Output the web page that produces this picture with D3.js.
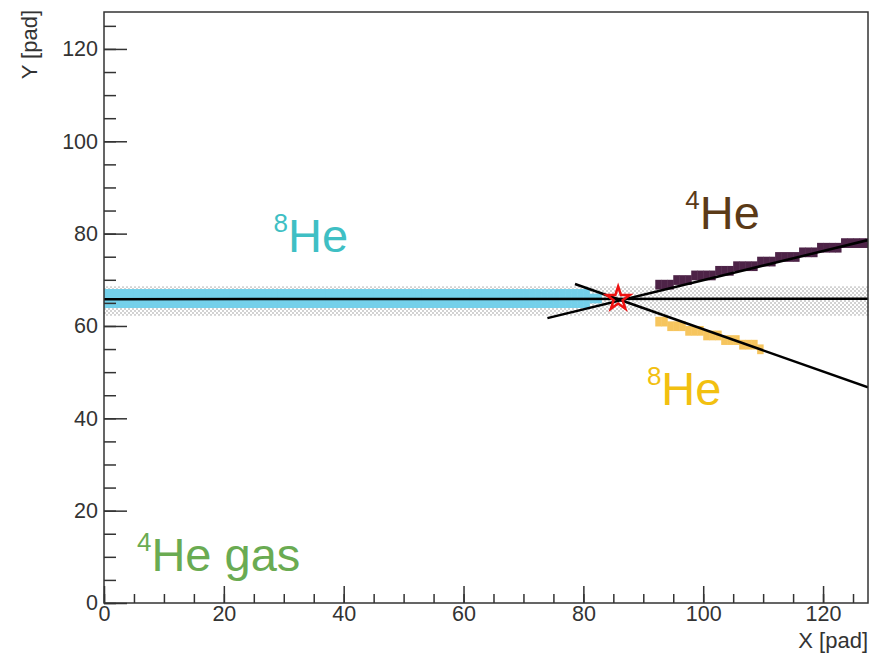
<!DOCTYPE html>
<html lang="en">
<head>
<meta charset="UTF-8">
<title>Tracks</title>
<script src="https://d3js.org/d3.v7.min.js"></script>
<style>
  body { margin: 0; background: #fff; }
  text { font-family: "Liberation Sans", Arial, sans-serif; }
</style>
</head>
<body>
<div id="chart"></div>
<script>
// pad columns and rows of the hit clusters (lowest row, row count)
var beamCols = d3.range(0, 83);
var beamLo = beamCols.map(function(c) { return c > 80 ? 65 : 64; });
var beamRows = beamCols.map(function(c) { return c > 80 ? 2 : 4; });

var alphaCols = [92,93,94,95,96,97,98,99,100,101,102,103,104,105,106,107,108,109,
                 110,111,112,113,114,115,116,117,118,119,120,121,122,123,124,125,126,127];
var alphaLo   = [68,68,68,69,69,69,70,70,70,70,71,71,71,72,72,72,72,73,
                 73,73,74,74,74,74,75,75,75,76,76,76,76,77,77,77,77,77];

var heCols = [92,93,94,95,96,97,98,99,100,101,102,103,104,105,106,107,108,109];
var heLo   = [60,60,59,59,59,58,58,58,57,57,57,56,56,56,55,55,55,54];

// beam zone limits (y)
var beamZone = [62.2, 68.6];

// fitted tracks [x1, y1, x2, y2]
var tracks = [
  [0, 65.8, 127.5, 65.9],
  [74, 61.7, 127.5, 78.6],
  [78.6, 69.1, 127.5, 46.7]
];
var vertex = [85.8, 65.9];

var labels = [
  {sup: "8", main: "He", x: 28.3, y: 76.1, color: "#3fbfc4"},
  {sup: "4", main: "He", x: 97.0, y: 80.9, color: "#5b3a17"},
  {sup: "8", main: "He", x: 90.6, y: 42.8, color: "#f2c010"},
  {sup: "4", main: "He gas", x: 5.5, y: 7.0, color: "#6aab52"}
];

var W = 872, H = 655;
var mLeft = 104, mRight = 868, mTop = 12, mBottom = 603;

var svg = d3.select("#chart").append("svg")
    .attr("width", W).attr("height", H);

var x = d3.scaleLinear().domain([0, 127.5]).range([mLeft, mRight]);
var y = d3.scaleLinear().domain([0, 128]).range([mBottom, mTop]);

// dotted pattern for the beam zone
var defs = svg.append("defs");
var pat = defs.append("pattern")
    .attr("id", "dots").attr("width", 4).attr("height", 4)
    .attr("patternUnits", "userSpaceOnUse");
pat.append("rect").attr("x", 0).attr("y", 0).attr("width", 2).attr("height", 2).attr("fill", "#d2d2d2");
pat.append("rect").attr("x", 2).attr("y", 2).attr("width", 2).attr("height", 2).attr("fill", "#d2d2d2");
defs.append("clipPath").attr("id", "clip")
  .append("rect").attr("x", mLeft).attr("y", mTop).attr("width", mRight - mLeft).attr("height", mBottom - mTop);

var plot = svg.append("g").attr("clip-path", "url(#clip)");

plot.append("rect")
    .attr("x", x(0)).attr("width", x(127.5) - x(0))
    .attr("y", y(beamZone[1])).attr("height", y(beamZone[0]) - y(beamZone[1]))
    .attr("fill", "url(#dots)");

function cells(cols, lo, rows, color) {
  plot.append("g").selectAll("rect")
    .data(cols)
    .enter().append("rect")
    .attr("x", function(d) { return x(d); })
    .attr("width", function(d) { return x(d + 1) - x(d) + 0.5; })
    .attr("y", function(d, i) { return y(lo[i] + (rows ? rows[i] : 2)); })
    .attr("height", function(d, i) { return y(lo[i]) - y(lo[i] + (rows ? rows[i] : 2)) + 0.5; })
    .attr("fill", color);
}
cells(beamCols, beamLo, beamRows, "#74d0ea");
cells(alphaCols, alphaLo, null, "#4d2347");
cells(heCols, heLo, null, "#f6c55e");

plot.selectAll("line.track")
  .data(tracks)
  .enter().append("line")
  .attr("class", "track")
  .attr("x1", function(d) { return x(d[0]); })
  .attr("y1", function(d) { return y(d[1]); })
  .attr("x2", function(d) { return x(d[2]); })
  .attr("y2", function(d) { return y(d[3]); })
  .attr("stroke", "#000").attr("stroke-width", 2.5);

plot.append("path")
  .attr("d", d3.symbol().type(d3.symbolStar).size(170)())
  .attr("transform", "translate(" + x(vertex[0]) + "," + y(vertex[1]) + ")")
  .attr("fill", "none").attr("stroke", "#ee1111").attr("stroke-width", 2.5);

// labels
labels.forEach(function(l) {
  var t = svg.append("text")
    .attr("x", x(l.x)).attr("y", y(l.y))
    .attr("fill", l.color);
  t.append("tspan").attr("font-size", 26).attr("dy", -20).text(l.sup);
  t.append("tspan").attr("font-size", 47).attr("dy", 20).text(l.main);
});

// axes
var axColor = "#333";
var gx = svg.append("g").attr("transform", "translate(0," + mBottom + ")");
gx.call(d3.axisBottom(x).tickValues(d3.range(0, 128, 5)).tickSize(-9).tickFormat(""));
var gx2 = svg.append("g").attr("transform", "translate(0," + mBottom + ")");
gx2.call(d3.axisBottom(x).tickValues(d3.range(0, 121, 20)).tickSize(-17).tickPadding(3));

var gy = svg.append("g").attr("transform", "translate(" + mLeft + ",0)");
gy.call(d3.axisLeft(y).tickValues(d3.range(0, 128, 5)).tickSize(-12).tickFormat(""));
var gy2 = svg.append("g").attr("transform", "translate(" + mLeft + ",0)");
gy2.call(d3.axisLeft(y).tickValues(d3.range(0, 121, 20)).tickSize(-23).tickPadding(6));

[gx, gx2, gy, gy2].forEach(function(g) {
  g.select(".domain").remove();
  g.selectAll("line").attr("stroke", axColor).attr("stroke-width", 1.5);
  g.selectAll("text").attr("font-size", 21.5).attr("fill", axColor)
    .attr("font-family", "'Liberation Sans', Arial, sans-serif");
});

svg.append("rect")
  .attr("x", mLeft).attr("y", mTop).attr("width", mRight - mLeft).attr("height", mBottom - mTop)
  .attr("fill", "none").attr("stroke", axColor).attr("stroke-width", 1.5);

svg.append("text")
  .attr("x", mRight).attr("y", 648)
  .attr("text-anchor", "end").attr("font-size", 22).attr("fill", axColor)
  .text("X [pad]");
svg.append("text")
  .attr("transform", "translate(37,10) rotate(-90)")
  .attr("text-anchor", "end").attr("font-size", 22).attr("fill", axColor)
  .text("Y [pad]");
</script>
</body>
</html>
